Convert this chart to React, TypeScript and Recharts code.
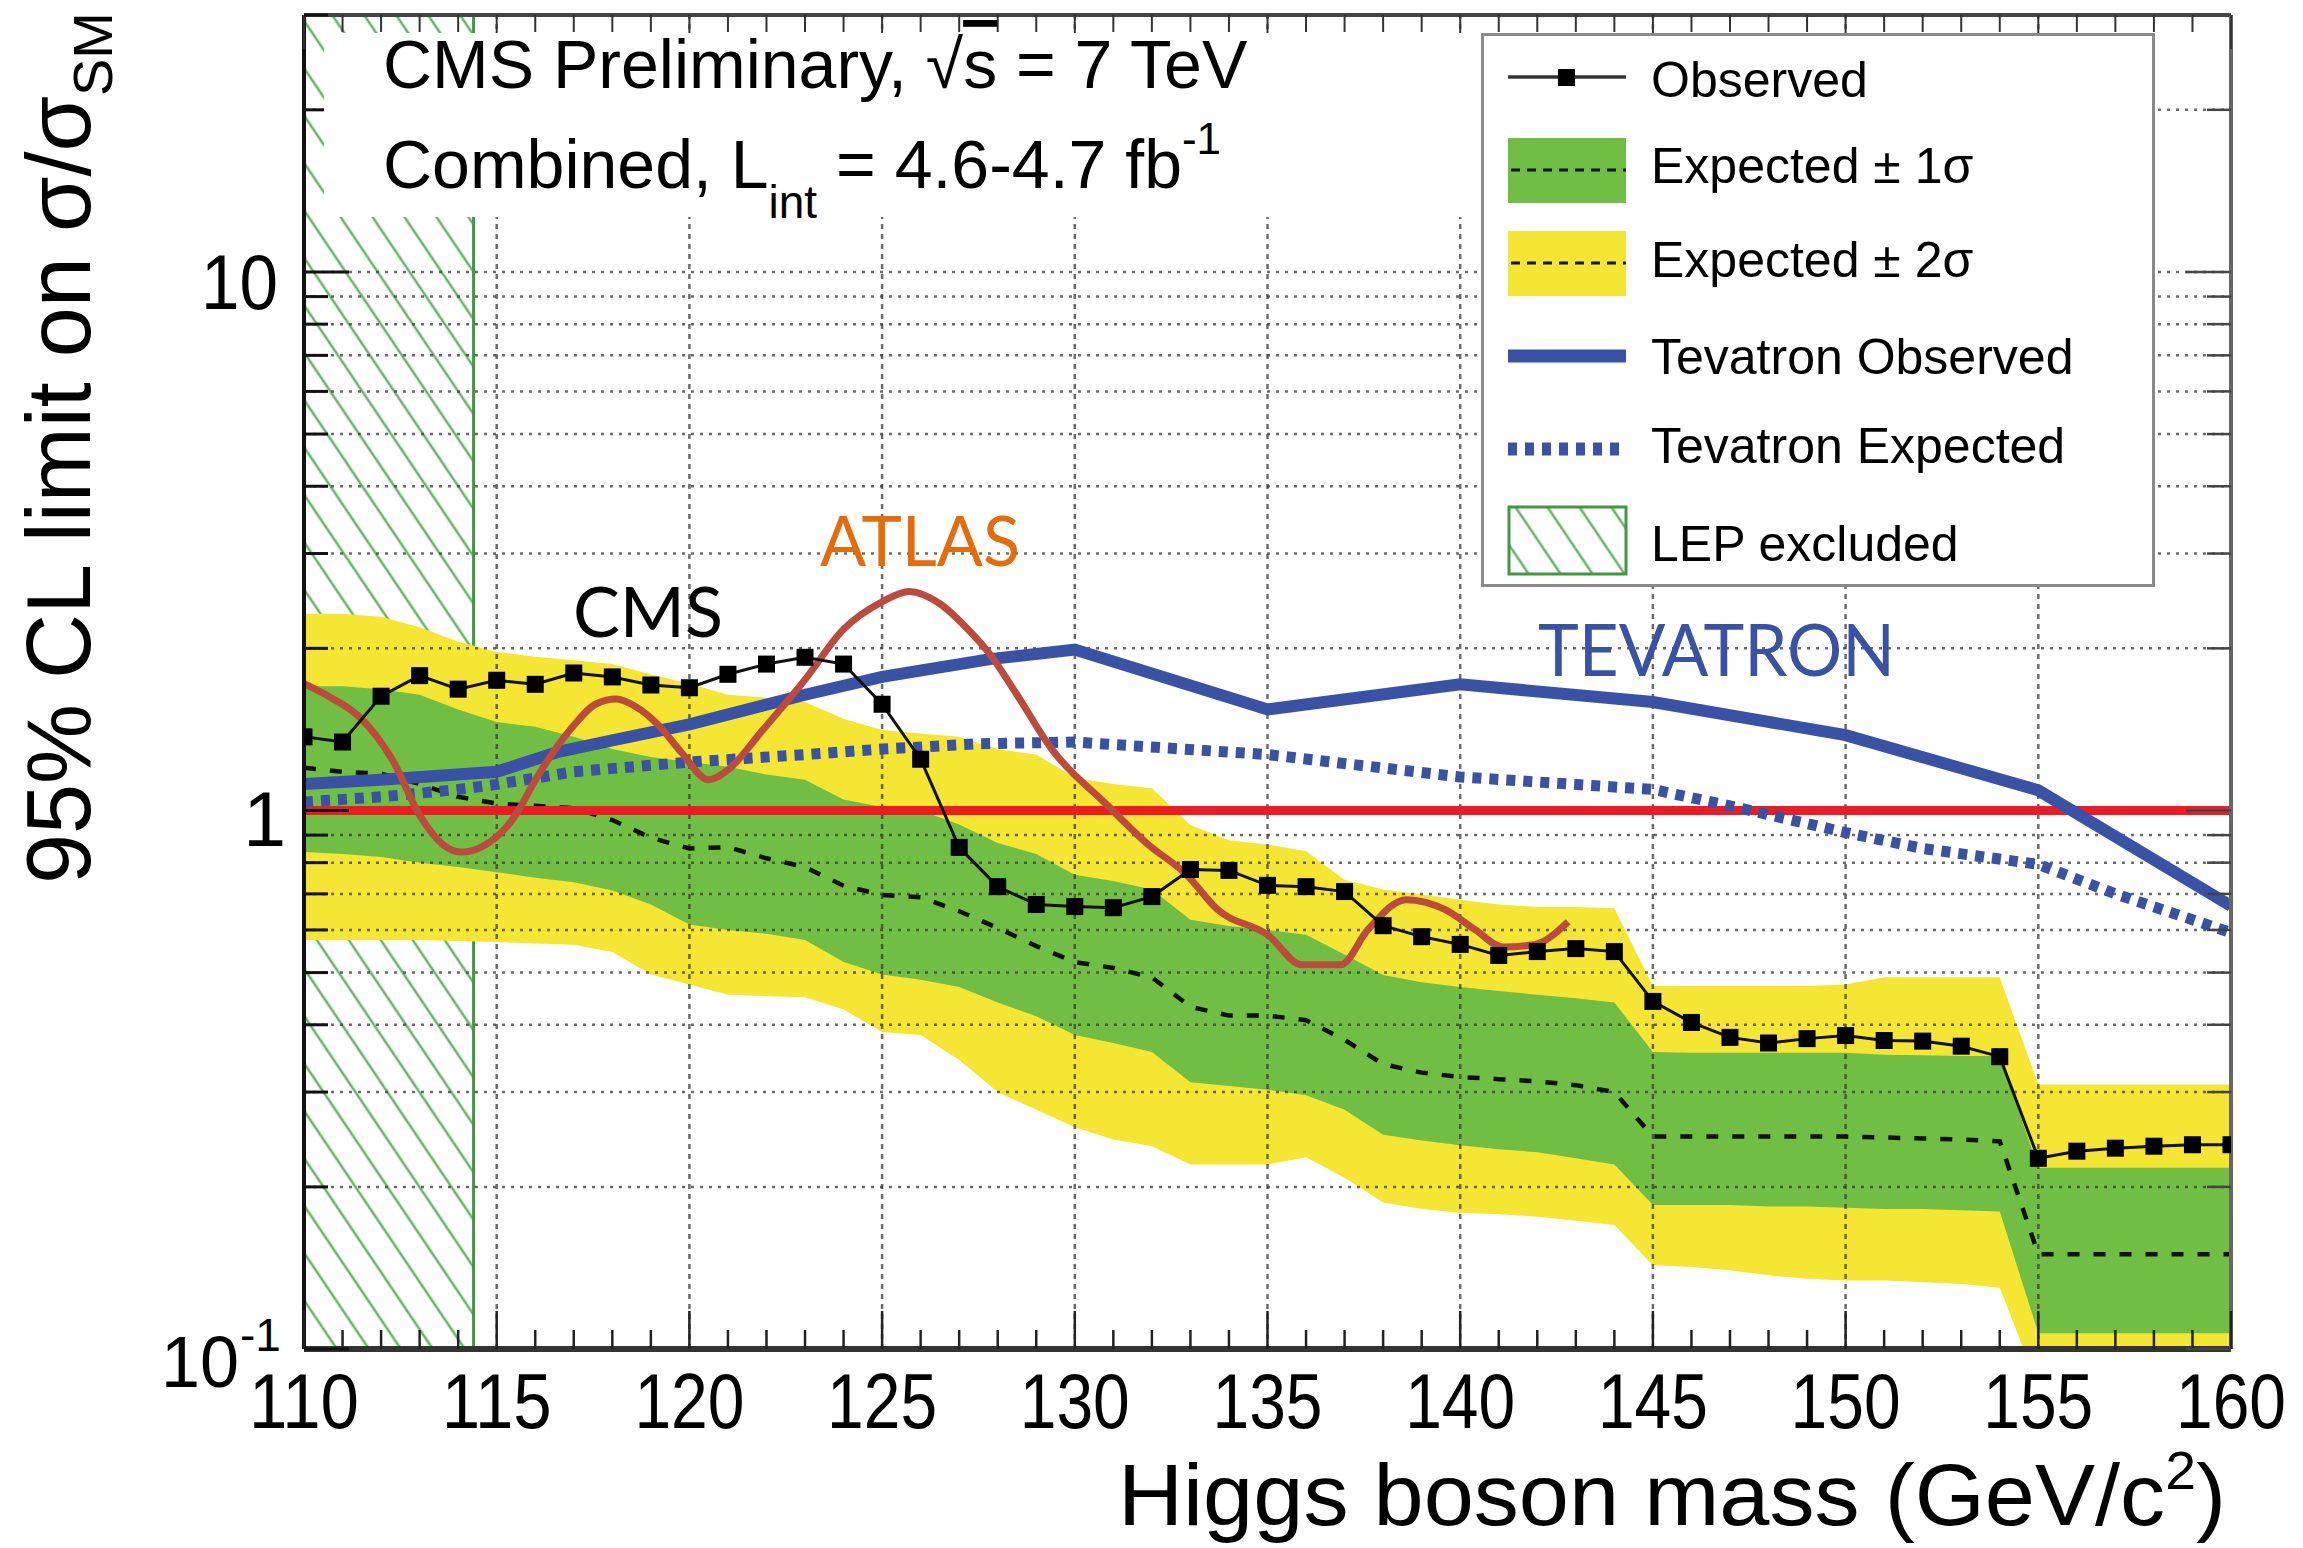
import React from "react";
import {
  Area,
  ComposedChart,
  Legend,
  Line,
  ReferenceArea,
  ReferenceLine,
  XAxis,
  YAxis,
} from "recharts";

const FONT = '"Liberation Sans", Arial, Helvetica, sans-serif';
const LABEL_FONT = 'Lato, "Open Sans", sans-serif';

// Higgs mass points (GeV/c^2)
const MASSES = [
  110, 111, 112, 113, 114, 115, 116, 117, 118, 119, 120, 121, 122, 123, 124,
  125, 126, 127, 128, 129, 130, 131, 132, 133, 134, 135, 136, 137, 138, 139,
  140, 141, 142, 143, 144, 145, 146, 147, 148, 149, 150, 151, 152, 153, 154,
  155, 156, 157, 158, 159, 160,
];

const OBSERVED = [
  1.37, 1.34, 1.63, 1.78, 1.68, 1.745, 1.715, 1.8, 1.77, 1.71, 1.69, 1.79,
  1.87, 1.925, 1.87, 1.575, 1.245, 0.854, 0.722, 0.669, 0.663, 0.66, 0.692,
  0.777, 0.774, 0.726, 0.722, 0.707, 0.611, 0.583, 0.564, 0.538, 0.547, 0.554,
  0.547, 0.442, 0.404, 0.379, 0.37, 0.377, 0.382, 0.374, 0.373, 0.365, 0.349,
  0.226, 0.233, 0.236, 0.238, 0.2395, 0.2395,
];

const EXPECTED = [
  1.2, 1.18, 1.17, 1.12, 1.06, 1.03, 1.02, 1.01, 0.96, 0.89, 0.85, 0.855,
  0.815, 0.785, 0.725, 0.697, 0.69, 0.65, 0.605, 0.56, 0.523, 0.51, 0.49,
  0.432, 0.416, 0.416, 0.408, 0.375, 0.338, 0.326, 0.32, 0.317, 0.314, 0.309,
  0.3, 0.248, 0.248, 0.248, 0.248, 0.248, 0.248, 0.247, 0.246, 0.245, 0.243,
  0.15, 0.15, 0.15, 0.15, 0.15, 0.15,
];

const GREEN_HI = [
  1.7, 1.7, 1.68, 1.64, 1.54, 1.46, 1.43, 1.37, 1.3, 1.257, 1.23, 1.205,
  1.166, 1.14, 1.048, 1.015, 1.0, 0.942, 0.87, 0.83, 0.76, 0.74, 0.713, 0.627,
  0.61, 0.6, 0.588, 0.54, 0.495, 0.48, 0.47, 0.462, 0.455, 0.448, 0.44, 0.356,
  0.355, 0.355, 0.355, 0.355, 0.355, 0.352, 0.351, 0.35, 0.35, 0.217, 0.217,
  0.217, 0.217, 0.217, 0.217,
];

const GREEN_LO = [
  0.837, 0.83, 0.82, 0.8, 0.785, 0.768, 0.75, 0.736, 0.71, 0.669, 0.614, 0.6,
  0.59, 0.575, 0.523, 0.496, 0.485, 0.47, 0.44, 0.415, 0.383, 0.37, 0.356,
  0.313, 0.308, 0.303, 0.296, 0.278, 0.25, 0.244, 0.239, 0.235, 0.232, 0.226,
  0.22, 0.185, 0.185, 0.185, 0.184, 0.184, 0.183, 0.182, 0.182, 0.181, 0.18,
  0.107, 0.107, 0.107, 0.107, 0.107, 0.107,
];

const YELLOW_HI = [
  2.32, 2.32, 2.29, 2.19, 2.06, 1.97, 1.93, 1.9, 1.87, 1.79, 1.72, 1.64, 1.62,
  1.59, 1.48, 1.41, 1.39, 1.37, 1.3, 1.27, 1.15, 1.12, 1.1, 0.94, 0.88, 0.865,
  0.84, 0.744, 0.713, 0.698, 0.683, 0.669, 0.662, 0.662, 0.658, 0.472, 0.472,
  0.472, 0.472, 0.472, 0.475, 0.49, 0.49, 0.49, 0.49, 0.31, 0.31, 0.31, 0.31,
  0.31, 0.31,
];

const YELLOW_LO = [
  0.575, 0.575, 0.575, 0.575, 0.572, 0.57, 0.566, 0.563, 0.546, 0.496, 0.475,
  0.455, 0.452, 0.45, 0.427, 0.388, 0.383, 0.344, 0.3, 0.278, 0.258, 0.245,
  0.238, 0.22, 0.22, 0.22, 0.227, 0.208, 0.187, 0.182, 0.179, 0.178, 0.176,
  0.173, 0.17, 0.143, 0.142, 0.14, 0.137, 0.135, 0.134, 0.134, 0.133, 0.132,
  0.13, 0.085, 0.085, 0.085, 0.085, 0.085, 0.085,
];

const TEV_OBS_MASS = [
  110, 112, 115, 116.6, 118, 120, 123, 125, 127.8, 130, 135, 140, 145, 150,
  155, 160,
];
const TEV_OBS = [
  1.12, 1.14, 1.18, 1.285, 1.35, 1.445, 1.64, 1.77, 1.91, 1.99, 1.54, 1.715,
  1.59, 1.38, 1.09, 0.665,
];

const TEV_EXP_MASS = [
  110, 112, 114, 115, 117, 120, 123, 125, 127.5, 130, 135, 140, 145, 147, 150,
  152, 155, 157, 160,
];
const TEV_EXP = [
  1.037, 1.06, 1.094, 1.118, 1.18, 1.23, 1.27, 1.3, 1.33, 1.34, 1.27, 1.154,
  1.094, 1.02, 0.91, 0.85, 0.794, 0.7, 0.593,
];

const ATLAS_MASS = [
  110, 110.7, 111.4, 112.3, 113, 113.6, 114.1, 114.6, 115.4, 116.1, 116.9,
  117.6, 118.1, 118.6, 119.2, 119.8, 120.5, 121, 121.9, 123, 124, 125, 125.7,
  126.5, 127.2, 127.8, 128.5, 129.4, 130.8, 131.9, 132.9, 133.7, 135, 135.9,
  136.9, 137.6, 138.6, 139.6, 140.4, 141.1, 141.9, 142.8,
];
const ATLAS = [
  1.72, 1.62, 1.5, 1.24, 0.98, 0.865, 0.837, 0.855, 0.96, 1.17, 1.41, 1.58,
  1.61, 1.56, 1.44, 1.28, 1.14, 1.19, 1.41, 1.75, 2.17, 2.44, 2.55, 2.42, 2.18,
  1.95, 1.64, 1.3, 1.03, 0.865, 0.76, 0.655, 0.588, 0.517, 0.517, 0.6, 0.683,
  0.655, 0.6, 0.558, 0.563, 0.621,
];

const LEP_LIMIT = 114.4;
const SM_LINE = 1;

const X_DOMAIN = [110, 160];
const Y_DOMAIN = [0.1, 30];
const X_TICKS = MASSES;
const X_GRID = [115, 120, 125, 130, 135, 140, 145, 150, 155];
const Y_TICKS = [
  0.1, 0.2, 0.3, 0.4, 0.5, 0.6, 0.7, 0.8, 0.9, 1, 2, 3, 4, 5, 6, 7, 8, 9, 10,
  20, 30,
];
const Y_GRID = [
  0.2, 0.3, 0.4, 0.5, 0.6, 0.7, 0.8, 0.9, 2, 3, 4, 5, 6, 7, 8, 9, 10, 20,
];
const Y_MAJOR = [0.1, 1, 10];

const YELLOW = "#f5e634";
const GREEN = "#70bf44";
const BLUE = "#3a52a5";
const RED = "#ed1c24";
const ATLAS_RED = "#bd4b3d";
const LEP_GREEN = "#3f9a3f";
const GRID = "#3a3a3a";

const bandData = MASSES.map((mass, i) => ({
  mass,
  yellow: [YELLOW_LO[i], YELLOW_HI[i]],
  green: [GREEN_LO[i], GREEN_HI[i]],
  expected: EXPECTED[i],
  observed: OBSERVED[i],
}));
const tevObsData = TEV_OBS_MASS.map((mass, i) => ({ mass, value: TEV_OBS[i] }));
const tevExpData = TEV_EXP_MASS.map((mass, i) => ({ mass, value: TEV_EXP[i] }));
const atlasData = ATLAS_MASS.map((mass, i) => ({ mass, value: ATLAS[i] }));

function BottomTick(props: any) {
  const { x, y, payload } = props;
  const major = payload.value % 5 === 0;
  return (
    <g>
      <line x1={x} x2={x} y1={y} y2={y - (major ? 38 : 19)} stroke="#222" strokeWidth={2.5} />
      {major && (
        <text
          x={x}
          y={y + 79}
          textAnchor="middle"
          fontSize={77}
          fontFamily={FONT}
          fill="#000"
          textLength={110}
          lengthAdjust="spacingAndGlyphs"
        >
          {payload.value}
        </text>
      )}
    </g>
  );
}

function TopTick(props: any) {
  const { x, y, payload } = props;
  const major = payload.value % 5 === 0;
  return <line x1={x} x2={x} y1={y} y2={y + (major ? 34 : 17)} stroke="#333" strokeWidth={2} />;
}

function LeftTick(props: any) {
  const { x, y, payload } = props;
  const v = payload.value;
  const major = Y_MAJOR.includes(v);
  return (
    <g>
      <line x1={x} x2={x + (major ? 45 : 24)} y1={y} y2={y} stroke="#111" strokeWidth={3} />
      {v === 10 && (
        <text x={x - 26} y={y + 37} textAnchor="end" fontSize={77} fontFamily={FONT}
          textLength={77} lengthAdjust="spacingAndGlyphs">
          10
        </text>
      )}
      {v === 1 && (
        <text x={x - 18} y={y + 36} textAnchor="end" fontSize={77} fontFamily={FONT}>
          1
        </text>
      )}
      {v === 0.1 && (
        <g fontFamily={FONT}>
          <text x={x - 65} y={y + 38} textAnchor="end" fontSize={73}
            textLength={78} lengthAdjust="spacingAndGlyphs">
            10
          </text>
          <text x={x - 64} y={y + 2} fontSize={46}>-1</text>
        </g>
      )}
    </g>
  );
}

function RightTick(props: any) {
  const { x, y, payload } = props;
  const major = Y_MAJOR.includes(payload.value);
  return <line x1={x} x2={x - (major ? 45 : 24)} y1={y} y2={y} stroke="#444" strokeWidth={2.5} />;
}

function SquareDot(props: any) {
  const { cx, cy, index } = props;
  if (cx == null || cy == null) return <g key={`sq-${index}`} />;
  return <rect key={`sq-${index}`} x={cx - 8.5} y={cy - 8.5} width={17} height={17} fill="#000" />;
}

function LegendBox() {
  const textProps = { x: 170, fontSize: 50, fontFamily: FONT, fill: "#000" };
  return (
    <svg width={674} height={554} style={{ display: "block" }}>
      <rect x={1.5} y={1.5} width={671} height={551} fill="#fff" stroke="#8a8a8a" strokeWidth={3} />
      <line x1={27} x2={145} y1={44} y2={44} stroke="#333" strokeWidth={3.5} />
      <rect x={77} y={36} width={17} height={17} fill="#000" />
      <text {...textProps} y={64}>Observed</text>

      <rect x={27} y={105} width={118} height={65} fill={GREEN} />
      <line x1={30} x2={145} y1={137} y2={137} stroke="#111" strokeWidth={3} strokeDasharray="9 7" />
      <text {...textProps} y={150}>Expected ± 1σ</text>

      <rect x={27} y={198} width={118} height={65} fill={YELLOW} />
      <line x1={30} x2={145} y1={230} y2={230} stroke="#111" strokeWidth={3} strokeDasharray="9 7" />
      <text {...textProps} y={244}>Expected ± 2σ</text>

      <line x1={27} x2={145} y1={323} y2={323} stroke={BLUE} strokeWidth={13} />
      <text {...textProps} y={341}>Tevatron Observed</text>

      <line x1={27} x2={142} y1={416} y2={416} stroke={BLUE} strokeWidth={13} strokeDasharray="9 8" />
      <text {...textProps} y={430}>Tevatron Expected</text>

      <rect x={28} y={474} width={117} height={67} fill="url(#lepHatch)" stroke={LEP_GREEN} strokeWidth={3} />
      <text {...textProps} y={528}>LEP excluded</text>
    </svg>
  );
}

export default function App() {
  return (
    <div style={{ position: "absolute", left: 0, top: 0, width: 2303, height: 1548, background: "#fff" }}>
      <ComposedChart
        width={2303}
        height={1548}
        data={bandData}
        margin={{ top: 14, right: 71, bottom: 198, left: 303 }}
      >
        <XAxis
          dataKey="mass"
          type="number"
          domain={X_DOMAIN}
          allowDataOverflow
          ticks={X_TICKS}
          interval={0}
          height={1}
          tickSize={0}
          tickMargin={0}
          tickLine={false}
          axisLine={{ stroke: "#333", strokeWidth: 6 }}
          tick={BottomTick}
        />
        <XAxis
          xAxisId="top"
          orientation="top"
          dataKey="mass"
          type="number"
          domain={X_DOMAIN}
          allowDataOverflow
          ticks={X_TICKS}
          interval={0}
          height={1}
          tickSize={0}
          tickMargin={0}
          tickLine={false}
          axisLine={{ stroke: "#444", strokeWidth: 4 }}
          tick={TopTick}
        />
        <YAxis
          type="number"
          scale="log"
          domain={Y_DOMAIN}
          allowDataOverflow
          ticks={Y_TICKS}
          interval={0}
          width={1}
          tickSize={0}
          tickMargin={0}
          tickLine={false}
          axisLine={{ stroke: "#111", strokeWidth: 4 }}
          tick={LeftTick}
        />
        <YAxis
          yAxisId="right"
          orientation="right"
          type="number"
          scale="log"
          domain={Y_DOMAIN}
          allowDataOverflow
          ticks={Y_TICKS}
          interval={0}
          width={1}
          tickSize={0}
          tickMargin={0}
          tickLine={false}
          axisLine={{ stroke: "#666", strokeWidth: 4 }}
          tick={RightTick}
        />

        <ReferenceArea
          x1={X_DOMAIN[0]}
          x2={LEP_LIMIT}
          y1={Y_DOMAIN[0]}
          y2={Y_DOMAIN[1]}
          fill="url(#lepHatch)"
          fillOpacity={1}
          stroke="none"
          zIndex={10}
        />
        <ReferenceLine x={LEP_LIMIT} stroke={LEP_GREEN} strokeWidth={3} zIndex={15} />

        <Area
          dataKey="yellow"
          type="linear"
          stroke="none"
          fill={YELLOW}
          fillOpacity={1}
          isAnimationActive={false}
          zIndex={20}
        />
        <Area
          dataKey="green"
          type="linear"
          stroke="none"
          fill={GREEN}
          fillOpacity={1}
          isAnimationActive={false}
          zIndex={30}
        />

        {Y_GRID.map((v) => (
          <ReferenceLine
            key={`gy-${v}`}
            y={v}
            stroke={GRID}
            strokeOpacity={0.75}
            strokeWidth={2.5}
            strokeDasharray="3 6"
            zIndex={40}
          />
        ))}
        {X_GRID.map((v) => (
          <ReferenceLine
            key={`gx-${v}`}
            x={v}
            stroke={GRID}
            strokeOpacity={0.75}
            strokeWidth={2.5}
            strokeDasharray="5 5"
            zIndex={40}
          />
        ))}

        <Line
          dataKey="expected"
          type="linear"
          stroke="#111"
          strokeWidth={4.5}
          strokeDasharray="12 14"
          dot={false}
          isAnimationActive={false}
          zIndex={50}
        />

        <ReferenceLine y={SM_LINE} stroke={RED} strokeWidth={9} zIndex={60} />

        <Line
          data={tevExpData}
          dataKey="value"
          type="linear"
          stroke={BLUE}
          strokeWidth={11}
          strokeDasharray="9 8"
          dot={false}
          isAnimationActive={false}
          zIndex={70}
        />
        <Line
          data={tevObsData}
          dataKey="value"
          type="linear"
          stroke={BLUE}
          strokeWidth={12}
          dot={false}
          isAnimationActive={false}
          zIndex={80}
        />
        <Line
          data={atlasData}
          dataKey="value"
          type="monotone"
          stroke={ATLAS_RED}
          strokeWidth={7}
          dot={false}
          isAnimationActive={false}
          zIndex={90}
        />
        <Line
          dataKey="observed"
          type="linear"
          stroke="#111"
          strokeWidth={3}
          dot={SquareDot}
          isAnimationActive={false}
          zIndex={100}
        />

        <Legend
          layout="horizontal"
          verticalAlign="middle"
          align="center"
          content={() => <LegendBox />}
          wrapperStyle={{ left: 1481, top: 33, width: 674, height: 554 }}
        />
      </ComposedChart>

      <svg
        width={2303}
        height={1548}
        style={{ position: "absolute", left: 0, top: 0, pointerEvents: "none" }}
        fontFamily={FONT}
      >
        <defs>
          <pattern
            id="lepHatch"
            patternUnits="userSpaceOnUse"
            width={26.5}
            height={26.5}
            patternTransform="rotate(-34)"
          >
            <rect width={26.5} height={26.5} fill="#fff" />
            <line x1={2} y1={0} x2={2} y2={26.5} stroke="#6cb46c" strokeWidth={2.6} />
          </pattern>
        </defs>

        <rect x={324} y={33} width={1157} height={184} fill="#fff" />
        <text x={383} y={88} fontSize={68} fill="#000">
          CMS Preliminary, √<tspan style={{ textDecoration: "overline" }}>s</tspan> = 7 TeV
        </text>
        <text x={383} y={188} fontSize={68} fill="#000">
          Combined, L
          <tspan fontSize={46} dy={30}>int</tspan>
          <tspan dy={-30}> = 4.6-4.7 fb</tspan>
          <tspan fontSize={44} dy={-34}>-1</tspan>
        </text>

        <text
          transform="translate(90,448) rotate(-90)"
          textAnchor="middle"
          fontSize={90}
          fill="#000"
        >
          95% CL limit on σ/σ
          <tspan fontSize={56} dy={22}>SM</tspan>
        </text>

        <text
          x={2226}
          y={1525}
          textAnchor="end"
          fontSize={88}
          fill="#000"
          textLength={1108}
          lengthAdjust="spacingAndGlyphs"
        >
          Higgs boson mass (GeV/c
          <tspan fontSize={54} dy={-36}>2</tspan>
          <tspan dy={36}>)</tspan>
        </text>

        <text x={573} y={637} fontSize={70} fontFamily={LABEL_FONT} fill="#000"
          textLength={150} lengthAdjust="spacingAndGlyphs">
          CMS
        </text>
        <text x={820} y={566} fontSize={70} fontFamily={LABEL_FONT} fill="#e46c0a"
          textLength={200} lengthAdjust="spacingAndGlyphs">
          ATLAS
        </text>
        <text x={1538} y={676} fontSize={72} fontFamily={LABEL_FONT} fill="#3953a4"
          textLength={357} lengthAdjust="spacingAndGlyphs">
          TEVATRON
        </text>
      </svg>
    </div>
  );
}
